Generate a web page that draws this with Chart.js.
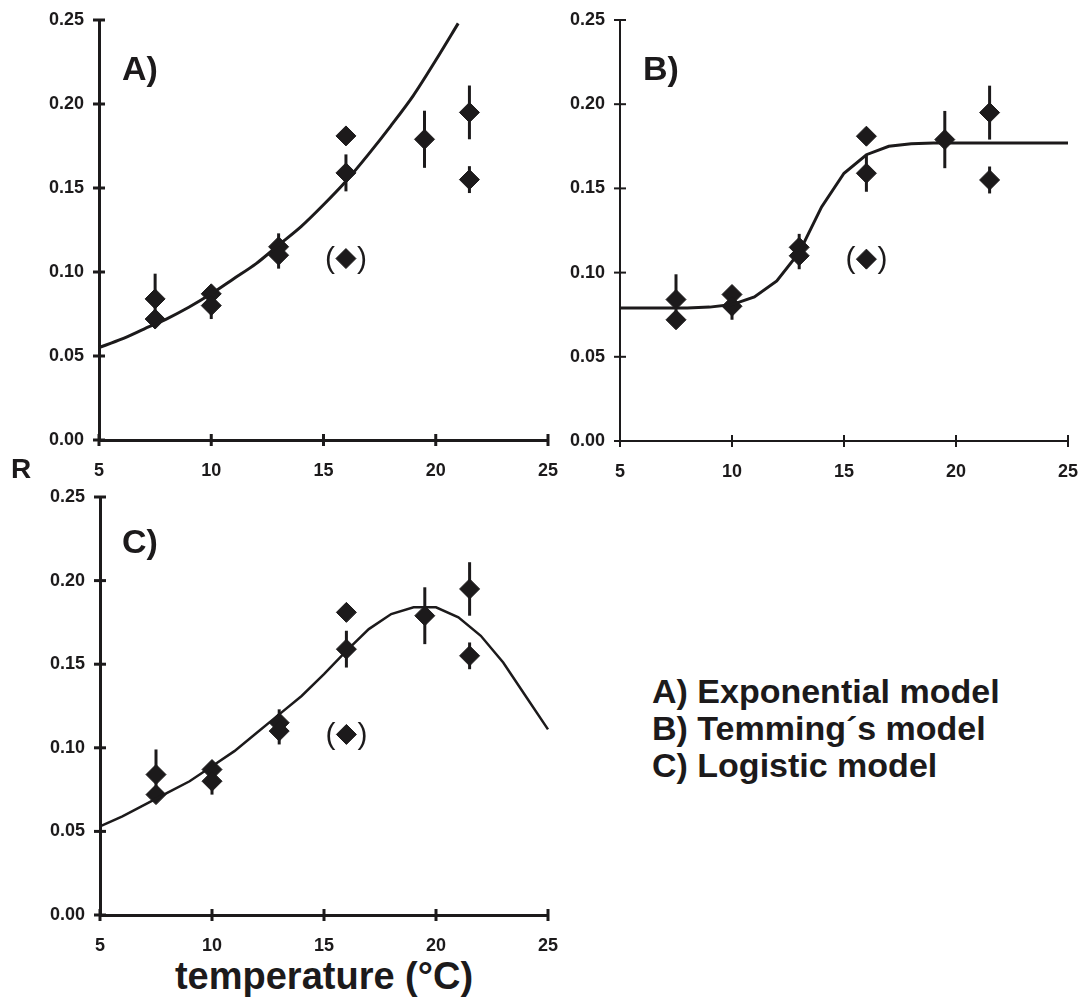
<!DOCTYPE html>
<html>
<head>
<meta charset="utf-8">
<script src="https://cdn.jsdelivr.net/npm/chart.js@4.4.1/dist/chart.umd.min.js"></script>
<style>
  html, body { margin: 0; padding: 0; background: #ffffff; }
  body { width: 1080px; height: 997px; position: relative; overflow: hidden;
         font-family: "Liberation Sans", Arial, sans-serif; color: #1c1a1b; }
  canvas { position: absolute; }
  .txt { position: absolute; font-weight: bold; white-space: nowrap; line-height: 1; }
</style>
</head>
<body>
<canvas id="panelA" width="570" height="480" style="left:0;top:0"></canvas>
<canvas id="panelB" width="560" height="481" style="left:520px;top:0"></canvas>
<canvas id="panelC" width="570" height="475" style="left:0;top:480px"></canvas>

<div class="txt" style="left:122px;top:51px;font-size:34px">A)</div>
<div class="txt" style="left:643px;top:51px;font-size:34px">B)</div>
<div class="txt" style="left:122px;top:524px;font-size:34px">C)</div>
<div class="txt" style="left:11px;top:455px;font-size:28px">R</div>
<div class="txt" style="left:324px;top:957px;font-size:38px;transform:translateX(-50%)">temperature (°C)</div>
<div class="txt" style="left:652px;top:674px;font-size:34px">A) Exponential model</div>
<div class="txt" style="left:652px;top:711px;font-size:34px">B) Temming´s model</div>
<div class="txt" style="left:652px;top:748px;font-size:34px">C) Logistic model</div>

<script>
// Measured growth rate R against temperature (°C)
const obsTemp = [7.5, 7.5, 10, 10, 13, 13, 16, 16, 19.5, 21.5, 21.5];
const obsRate = [0.084, 0.072, 0.087, 0.080, 0.115, 0.110, 0.181, 0.159, 0.179, 0.195, 0.155];
const obsErr  = [0.015, 0, 0, 0.008, 0.008, 0.008, 0, 0.011, 0.017, 0.016, 0.008];

// Point left out of the fits (shown in brackets)
const outlierTemp = [16];
const outlierRate = [0.108];

// A) exponential model
const expTemp = [5, 6, 7, 8, 9, 10, 11, 12, 13, 14, 15, 16, 17, 18, 19, 20, 21];
const expRate = [0.055, 0.060, 0.066, 0.072, 0.079, 0.087, 0.096, 0.105, 0.116, 0.127,
                 0.140, 0.154, 0.170, 0.187, 0.205, 0.226, 0.248];

// B) Temming's model
const temTemp = [5, 6, 7, 8, 9, 10, 11, 12, 13, 14, 15, 16, 17, 18, 19, 20, 21, 22, 23, 24, 25];
const temRate = [0.079, 0.079, 0.079, 0.079, 0.0795, 0.081, 0.0855, 0.095, 0.112, 0.139,
                 0.159, 0.170, 0.175, 0.1765, 0.177, 0.177, 0.177, 0.177, 0.177, 0.177, 0.177];

// C) logistic model
const logTemp = [5, 6, 7, 8, 9, 10, 11, 12, 13, 14, 15, 16, 17, 18, 19, 20, 21, 22, 23, 24, 25];
const logRate = [0.053, 0.059, 0.066, 0.073, 0.080, 0.089, 0.098, 0.109, 0.120, 0.131,
                 0.144, 0.158, 0.171, 0.180, 0.184, 0.184, 0.178, 0.167, 0.151, 0.131, 0.111];

// Axis ticks
const xTickValues = [5, 10, 15, 20, 25];
const yTickValues = [0, 0.05, 0.10, 0.15, 0.20, 0.25];

const INK = '#1c1a1b';
const FONT = '"Liberation Sans", Arial, sans-serif';

const pairs = (xs, ys) => xs.map((x, i) => ({ x: x, y: ys[i] }));

// Tick marks that cross the axis line on both sides
const crossTicks = {
  id: 'crossTicks',
  afterDraw(chart, args, o) {
    const { ctx, chartArea, scales } = chart;
    ctx.save();
    ctx.strokeStyle = INK;
    ctx.lineWidth = o.width;
    scales.x.ticks.forEach(t => {
      const px = scales.x.getPixelForValue(t.value);
      ctx.beginPath();
      ctx.moveTo(px, chartArea.bottom - o.len);
      ctx.lineTo(px, chartArea.bottom + o.len);
      ctx.stroke();
    });
    scales.y.ticks.forEach(t => {
      const py = scales.y.getPixelForValue(t.value);
      ctx.beginPath();
      ctx.moveTo(chartArea.left - o.len, py);
      ctx.lineTo(chartArea.left + o.len, py);
      ctx.stroke();
    });
    ctx.restore();
  }
};

// Vertical error bars for datasets carrying an `errors` array
const errorBars = {
  id: 'errorBars',
  beforeDatasetsDraw(chart) {
    const { ctx, scales } = chart;
    ctx.save();
    ctx.strokeStyle = INK;
    ctx.lineWidth = 3;
    chart.data.datasets.forEach(ds => {
      if (!ds.errors) return;
      ds.data.forEach((p, i) => {
        const e = ds.errors[i];
        if (!e) return;
        const px = scales.x.getPixelForValue(p.x);
        ctx.beginPath();
        ctx.moveTo(px, scales.y.getPixelForValue(p.y - e));
        ctx.lineTo(px, scales.y.getPixelForValue(p.y + e));
        ctx.stroke();
      });
    });
    ctx.restore();
  }
};

// Brackets around excluded points
const brackets = {
  id: 'brackets',
  afterDatasetsDraw(chart) {
    const { ctx, scales } = chart;
    ctx.save();
    ctx.fillStyle = INK;
    ctx.font = 'normal 30px ' + FONT;
    ctx.textAlign = 'center';
    ctx.textBaseline = 'middle';
    chart.data.datasets.forEach(ds => {
      if (!ds.bracketed) return;
      ds.data.forEach(p => {
        const px = scales.x.getPixelForValue(p.x);
        const py = scales.y.getPixelForValue(p.y);
        ctx.fillText('(', px - 16, py + 1);
        ctx.fillText(')', px + 16, py + 1);
      });
    });
    ctx.restore();
  }
};

function diamonds(xs, ys, extra) {
  return Object.assign({
    type: 'scatter',
    data: pairs(xs, ys),
    pointStyle: 'rectRot',
    pointRadius: 10,
    pointHoverRadius: 10,
    backgroundColor: INK,
    borderColor: INK,
    borderWidth: 1,
    clip: false
  }, extra || {});
}

// Keep the plot box where the layout padding puts it
function noEdgePadding(s) {
  s.paddingLeft = 0; s.paddingRight = 0; s.paddingTop = 0; s.paddingBottom = 0;
}

function makePanel(id, curveT, curveR, cfg) {
  return new Chart(document.getElementById(id), {
    data: {
      datasets: [
        {
          type: 'line',
          data: pairs(curveT, curveR),
          borderColor: INK,
          borderWidth: cfg.curveWidth,
          pointRadius: 0,
          fill: false,
          tension: cfg.tension,
          clip: false
        },
        diamonds(obsTemp, obsRate, { errors: obsErr }),
        diamonds(outlierTemp, outlierRate, { bracketed: true })
      ]
    },
    options: {
      responsive: false,
      devicePixelRatio: 1,
      animation: false,
      events: [],
      layout: { padding: cfg.padding },
      plugins: {
        legend: { display: false },
        tooltip: { enabled: false },
        crossTicks: { width: cfg.axisWidth, len: 6 }
      },
      scales: {
        x: {
          type: 'linear',
          min: 5, max: 25,
          afterBuildTicks: s => { s.ticks = xTickValues.map(v => ({ value: v })); },
          afterFit: s => { s.height = 40; noEdgePadding(s); },
          grid: { display: false, drawTicks: false },
          border: { display: true, color: INK, width: cfg.axisWidth },
          ticks: {
            color: INK,
            padding: 20,
            maxRotation: 0,
            autoSkip: false,
            font: { family: FONT, size: 18, weight: 'bold' },
            callback: v => String(v)
          }
        },
        y: {
          type: 'linear',
          min: 0, max: 0.25,
          afterBuildTicks: s => { s.ticks = yTickValues.map(v => ({ value: v })); },
          afterFit: s => { s.width = cfg.yWidth; noEdgePadding(s); },
          grid: { display: false, drawTicks: false },
          border: { display: true, color: INK, width: cfg.axisWidth },
          ticks: {
            color: INK,
            padding: 15,
            autoSkip: false,
            font: { family: FONT, size: 18, weight: 'bold' },
            callback: v => Number(v).toFixed(2)
          }
        }
      }
    },
    plugins: [crossTicks, errorBars, brackets]
  });
}

makePanel('panelA', expTemp, expRate, {
  padding: { left: 0, top: 20, right: 22, bottom: 0 },
  yWidth: 99, axisWidth: 3, curveWidth: 3, tension: 0.3
});
makePanel('panelB', temTemp, temRate, {
  padding: { left: 0, top: 20, right: 12, bottom: 0 },
  yWidth: 100, axisWidth: 2, curveWidth: 3, tension: 0
});
makePanel('panelC', logTemp, logRate, {
  padding: { left: 0, top: 17, right: 22, bottom: 0 },
  yWidth: 100, axisWidth: 3, curveWidth: 2.5, tension: 0
});
</script>
</body>
</html>
